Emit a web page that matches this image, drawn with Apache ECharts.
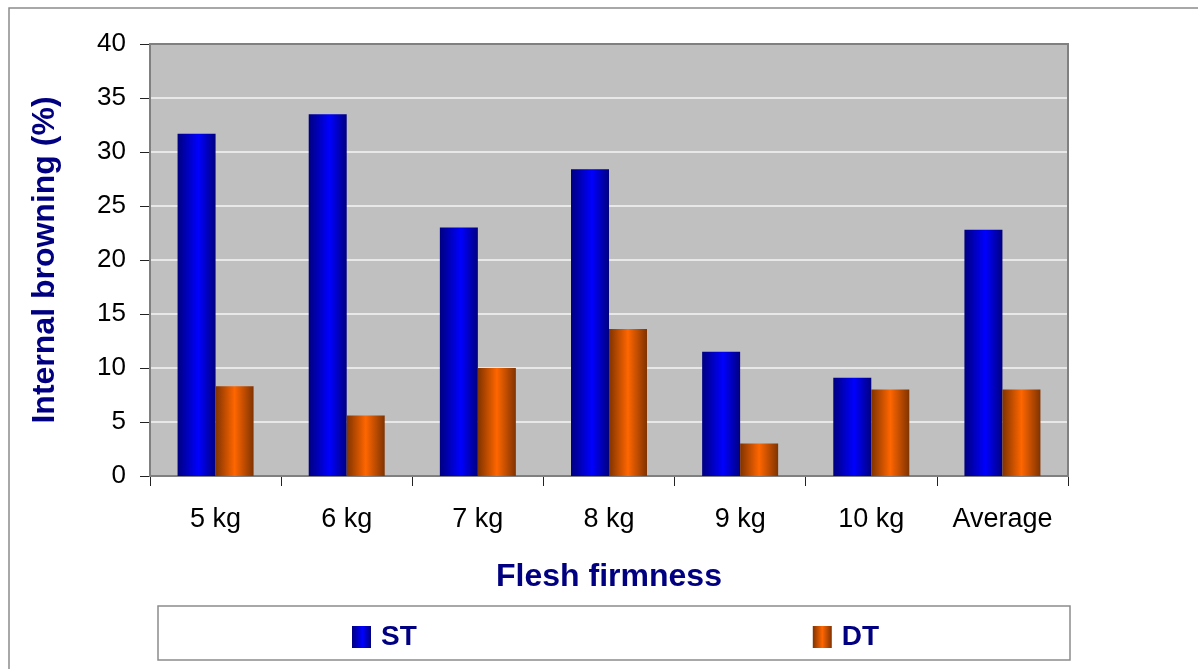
<!DOCTYPE html>
<html>
<head>
<meta charset="utf-8">
<script src="https://cdn.jsdelivr.net/npm/echarts@6/dist/echarts.min.js"></script>
<style>html,body{margin:0;padding:0;background:#fff;}#c{width:1198px;height:669px;}</style>
</head>
<body>
<div id="c"></div>
<script>
var categories = ['5 kg', '6 kg', '7 kg', '8 kg', '9 kg', '10 kg', 'Average'];
var stValues = [31.7, 33.5, 23.0, 28.4, 11.5, 9.1, 22.8];
var dtValues = [8.3, 5.6, 10.0, 13.6, 3.0, 8.0, 8.0];
var yTicks = [0, 5, 10, 15, 20, 25, 30, 35, 40];

var blueGrad = new echarts.graphic.LinearGradient(0, 0, 1, 0, [
  {offset: 0, color: '#000080'}, {offset: 0.55, color: '#0000ff'}, {offset: 1, color: '#000080'}
]);
var orangeGrad = new echarts.graphic.LinearGradient(0, 0, 1, 0, [
  {offset: 0, color: '#803300'}, {offset: 0.5, color: '#ff6600'}, {offset: 1, color: '#803300'}
]);

var chart = echarts.init(document.getElementById('c'));
chart.setOption({
  animation: false,
  backgroundColor: '#fff',
  graphic: [
    {type: 'rect', shape: {x: 9, y: 8, width: 1300, height: 700}, style: {fill: 'none', stroke: '#8c8c8c', lineWidth: 1.5}, silent: true, z: -10},
    {type: 'rect', shape: {x: 158, y: 606, width: 912, height: 54}, style: {fill: '#fff', stroke: '#8c8c8c', lineWidth: 1.5}, silent: true, z: -5},
    {type: 'rect', shape: {x: 150, y: 44, width: 918, height: 432}, style: {fill: 'none', stroke: '#808080', lineWidth: 2}, silent: true, z: 1}
  ],
  grid: {left: 150, right: 130, top: 44, bottom: 193, backgroundColor: '#c0c0c0', show: true, borderWidth: 0},
  legend: {
    left: 352, top: 623, itemWidth: 19, itemHeight: 22, itemGap: 396, icon: 'rect', padding: 0,
    textStyle: {fontFamily: 'Liberation Sans, Arial', fontWeight: 'bold', fontSize: 28, color: '#000080', padding: [0, 0, 0, 5]},
    data: ['ST', 'DT']
  },
  xAxis: {
    type: 'category', data: categories,
    name: 'Flesh firmness', nameLocation: 'middle', nameGap: 85,
    nameTextStyle: {fontFamily: 'Liberation Sans, Arial', fontWeight: 'bold', fontSize: 32, color: '#000080'},
    axisLine: {lineStyle: {color: '#222', width: 1.5}},
    axisTick: {show: true, length: 10, lineStyle: {color: '#222'}},
    axisLabel: {fontFamily: 'Liberation Sans, Arial', fontSize: 27, color: '#000', margin: 30}
  },
  yAxis: {
    type: 'value', min: 0, max: 40, interval: 5,
    name: 'Internal browning (%)', nameLocation: 'middle', nameGap: 89,
    nameTextStyle: {fontFamily: 'Liberation Sans, Arial', fontWeight: 'bold', fontSize: 32, color: '#000080'},
    axisLine: {show: true, lineStyle: {color: '#222', width: 1.5}},
    axisTick: {show: true, length: 10, lineStyle: {color: '#222'}},
    axisLabel: {fontFamily: 'Liberation Sans, Arial', fontSize: 26, color: '#000', margin: 24,
      formatter: function (v) { return yTicks.indexOf(v) >= 0 ? String(v) : ''; }},
    splitLine: {lineStyle: {color: '#e8e8e8', width: 2}}
  },
  series: [
    {name: 'ST', type: 'bar', data: stValues, barWidth: 38, barGap: '0%', itemStyle: {color: blueGrad}},
    {name: 'DT', type: 'bar', data: dtValues, barWidth: 38, barGap: '0%', itemStyle: {color: orangeGrad}}
  ]
});
</script>
</body>
</html>
